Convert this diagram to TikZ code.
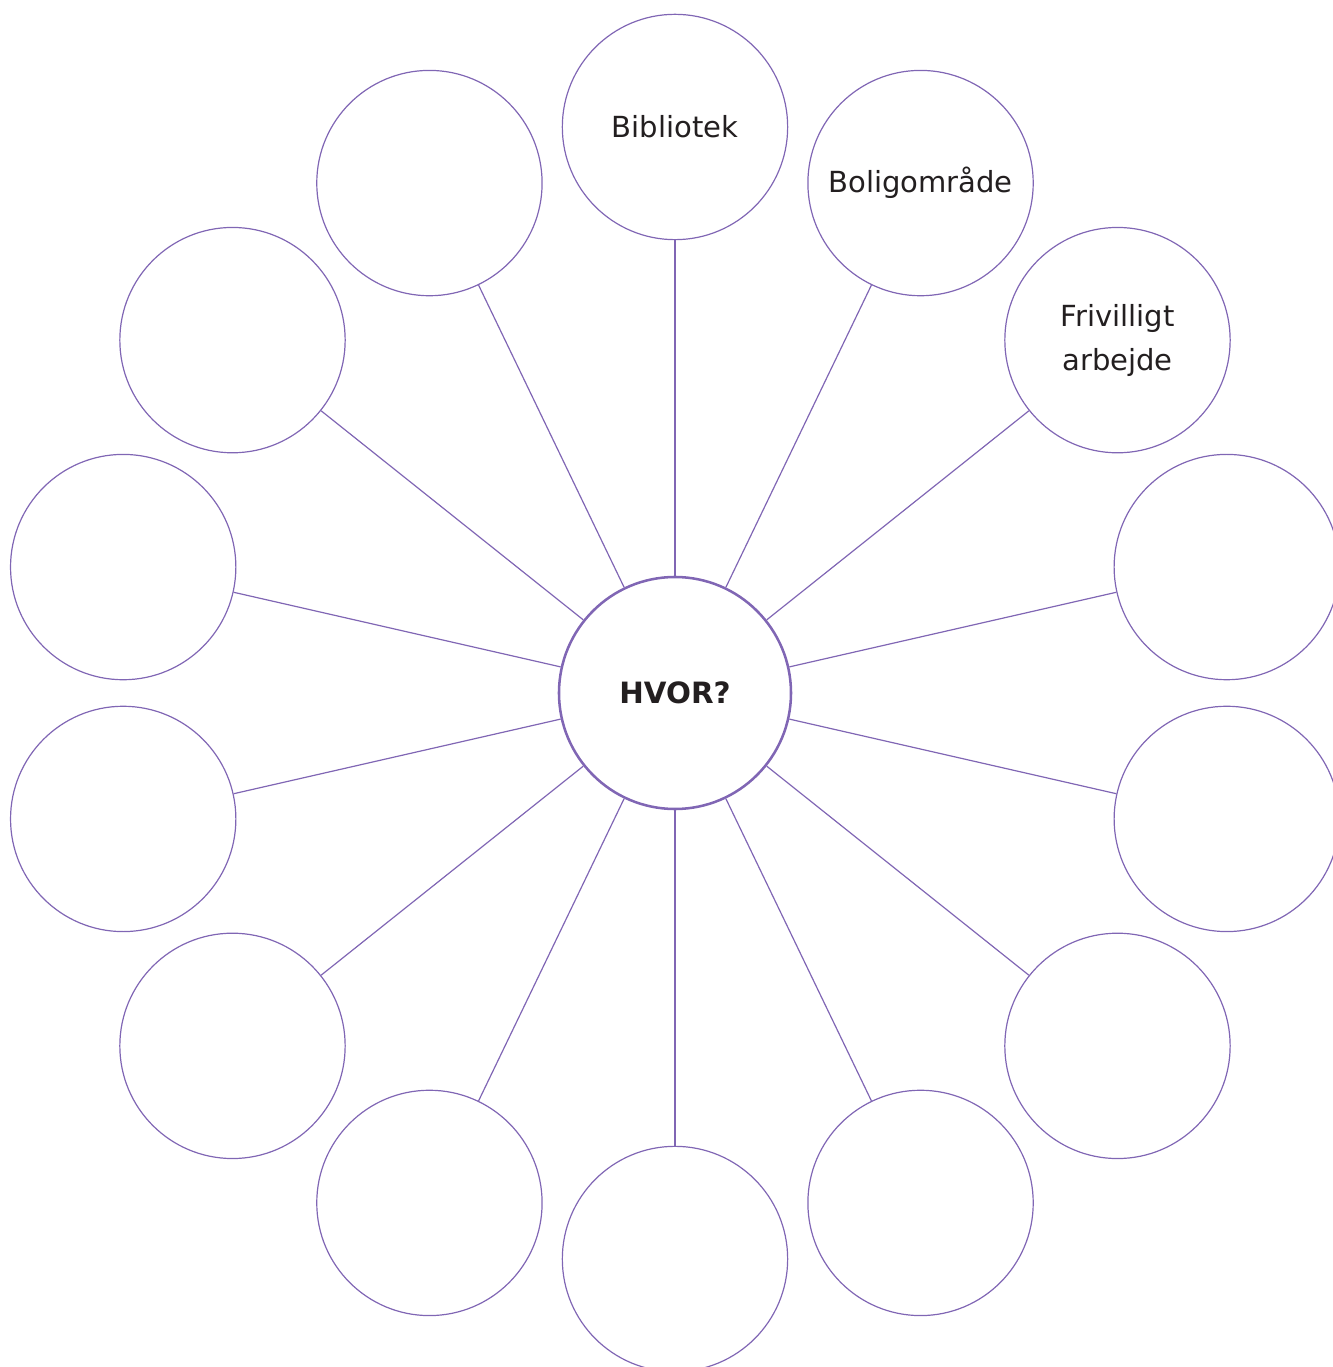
\documentclass[tikz,border=0pt]{standalone}
\usepackage{fontspec}
\setmainfont{DejaVu Sans}
\definecolor{lilla}{HTML}{8066B4}
\definecolor{tekst}{HTML}{231F20}

\begin{document}
\begin{tikzpicture}[x=0.75pt,y=0.75pt,
  midte/.style={circle, draw=lilla, line width=1.9pt, minimum size=174pt, inner sep=0pt, text=tekst, font=\fontsize{22}{26}\selectfont\bfseries},
  sted/.style={circle, draw=lilla, line width=0.9pt, minimum size=169pt, inner sep=0pt, align=center, text=tekst, font=\fontsize{21.8}{33}\selectfont},
  streg/.style={draw=lilla, line width=0.9pt}]
\useasboundingbox (-675,-674) rectangle (658,693);
% midten
\node[midte] (hvor) at (0,0) {HVOR?};
% 14 steder rundt om, med uret fra toppen
\foreach \i/\tekst in {0/Bibliotek,1/Boligområde,2/{Frivilligt\\arbejde},3/{},4/{},5/{},6/{},7/{},8/{},9/{},10/{},11/{},12/{},13/{}}
  \node[sted] (sted\i) at ({90-\i*360/14}:566) {\tekst};
% streger fra midten ud
\foreach \i in {0,...,13} \draw[streg] (hvor) -- (sted\i);
\end{tikzpicture}
\end{document}
